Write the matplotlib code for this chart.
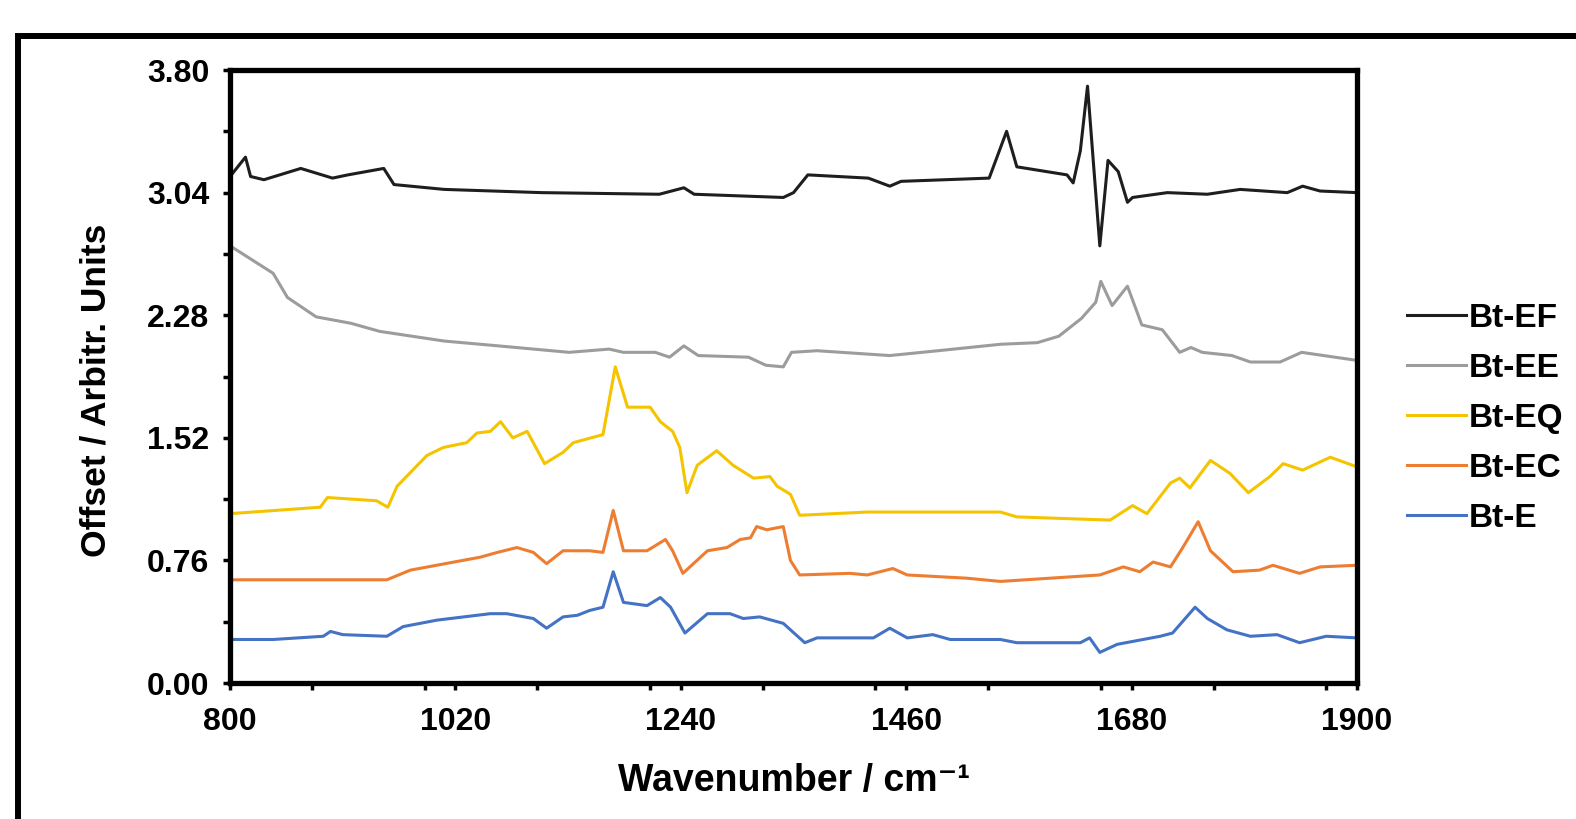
import numpy as np
import matplotlib.pyplot as plt
from matplotlib.patches import Rectangle
from matplotlib.ticker import MultipleLocator, FormatStrFormatter

plt.rcParams['font.family'] = ['Liberation Sans', 'DejaVu Sans']
plt.rcParams['font.weight'] = 'bold'

ef_x = [800, 815, 820, 833, 869, 900, 915, 950, 960, 1009, 1104, 1219, 1243, 1253, 1340,
        1350, 1364, 1423, 1444, 1455, 1541, 1558, 1568, 1617, 1623, 1630, 1637, 1649, 1657,
        1667, 1676, 1681, 1715, 1754, 1786, 1832, 1847, 1864, 1900]
ef_y = [3.14, 3.26, 3.14, 3.12, 3.19, 3.13, 3.15, 3.19, 3.09, 3.06, 3.04, 3.03, 3.07, 3.03, 3.01,
        3.04, 3.15, 3.13, 3.08, 3.11, 3.13, 3.42, 3.20, 3.15, 3.10, 3.30, 3.70, 2.71, 3.24,
        3.17, 2.98, 3.01, 3.04, 3.03, 3.06, 3.04, 3.08, 3.05, 3.04]

ee_x = [800, 842, 856, 884, 918, 946, 1009, 1062, 1131, 1170, 1184, 1215, 1229, 1243, 1257,
        1306, 1323, 1340, 1348, 1373, 1444, 1491, 1552, 1588, 1609, 1631, 1645, 1650, 1661,
        1676, 1690, 1710, 1727, 1738, 1749, 1778, 1796, 1825, 1846, 1900]
ee_y = [2.71, 2.54, 2.39, 2.27, 2.23, 2.18, 2.12, 2.09, 2.05, 2.07, 2.05, 2.05, 2.02, 2.09, 2.03,
        2.02, 1.97, 1.96, 2.05, 2.06, 2.03, 2.06, 2.10, 2.11, 2.15, 2.26, 2.36, 2.49, 2.34,
        2.46, 2.22, 2.19, 2.05, 2.08, 2.05, 2.03, 1.99, 1.99, 2.05, 2.00]

eq_x = [800, 888, 895, 943, 954, 963, 992, 1008, 1031, 1041, 1054, 1064, 1076, 1090, 1107,
        1125, 1135, 1164, 1176, 1188, 1210, 1220, 1232, 1239, 1246, 1256, 1275, 1291, 1311,
        1327, 1334, 1347, 1356, 1422, 1552, 1568, 1659, 1681, 1695, 1718, 1727, 1737, 1757,
        1776, 1794, 1815, 1828, 1847, 1874, 1900]
eq_y = [1.05, 1.09, 1.15, 1.13, 1.09, 1.22, 1.41, 1.46, 1.49, 1.55, 1.56, 1.62, 1.52, 1.56, 1.36,
        1.43, 1.49, 1.54, 1.96, 1.71, 1.71, 1.62, 1.56, 1.46, 1.18, 1.35, 1.44, 1.35, 1.27,
        1.28, 1.22, 1.17, 1.04, 1.06, 1.06, 1.03, 1.01, 1.10, 1.05, 1.24, 1.27, 1.21, 1.38,
        1.30, 1.18, 1.28, 1.36, 1.32, 1.40, 1.34]

ec_x = [800, 953, 976, 1044, 1061, 1080, 1096, 1109, 1125, 1151, 1164, 1174, 1184, 1207, 1225,
        1232, 1242, 1266, 1285, 1298, 1308, 1314, 1324, 1340, 1347, 1356, 1405, 1422, 1447,
        1461, 1519, 1552, 1649, 1672, 1688, 1701, 1718, 1730, 1745, 1757, 1779, 1805, 1818,
        1844, 1864, 1900]
ec_y = [0.64, 0.64, 0.70, 0.78, 0.81, 0.84, 0.81, 0.74, 0.82, 0.82, 0.81, 1.07, 0.82, 0.82, 0.89,
        0.82, 0.68, 0.82, 0.84, 0.89, 0.90, 0.97, 0.95, 0.97, 0.76, 0.67, 0.68, 0.67, 0.71,
        0.67, 0.65, 0.63, 0.67, 0.72, 0.69, 0.75, 0.72, 0.84, 1.00, 0.82, 0.69, 0.70, 0.73,
        0.68, 0.72, 0.73]

e_x = [800, 842, 891, 898, 910, 953, 969, 1002, 1054, 1070, 1096, 1109, 1125, 1139, 1151,
       1164, 1174, 1184, 1207, 1220, 1230, 1244, 1266, 1288, 1301, 1317, 1340, 1361, 1373,
       1428, 1444, 1461, 1486, 1503, 1552, 1568, 1630, 1639, 1649, 1666, 1708, 1720, 1742,
       1754, 1773, 1796, 1822, 1844, 1870, 1900]
e_y = [0.27, 0.27, 0.29, 0.32, 0.30, 0.29, 0.35, 0.39, 0.43, 0.43, 0.40, 0.34, 0.41, 0.42, 0.45,
       0.47, 0.69, 0.50, 0.48, 0.53, 0.47, 0.31, 0.43, 0.43, 0.40, 0.41, 0.37, 0.25, 0.28,
       0.28, 0.34, 0.28, 0.30, 0.27, 0.27, 0.25, 0.25, 0.28, 0.19, 0.24, 0.29, 0.31, 0.47,
       0.40, 0.33, 0.29, 0.30, 0.25, 0.29, 0.28]

series = [
    ('Bt-EF', ef_x, ef_y, '#1e1e1e'),
    ('Bt-EE', ee_x, ee_y, '#9c9c9c'),
    ('Bt-EQ', eq_x, eq_y, '#f5c400'),
    ('Bt-EC', ec_x, ec_y, '#ed7d31'),
    ('Bt-E', e_x, e_y, '#4472c4'),
]

y_ticks = [0.00, 0.76, 1.52, 2.28, 3.04, 3.80]
x_ticks = [800, 1020, 1240, 1460, 1680, 1900]

fig = plt.figure(figsize=(15.76, 8.19), dpi=100)
ax = fig.add_axes([0.146, 0.166, 0.715, 0.7485])

for name, xs, ys, col in series:
    ax.plot(xs, ys, color=col, lw=2.2, label=name)

ax.set_xlim(800, 1900)
ax.set_ylim(0, 3.80)
ax.set_xticks(x_ticks)
ax.set_yticks(y_ticks)
ax.xaxis.set_minor_locator(MultipleLocator(110))
ax.yaxis.set_minor_locator(MultipleLocator(0.38))
ax.yaxis.set_major_formatter(FormatStrFormatter('%.2f'))
ax.tick_params(which='both', direction='out', width=2.5, length=5, labelsize=23)
ax.tick_params(axis='y', pad=10)
ax.tick_params(axis='x', pad=12)
for lab in ax.get_xticklabels() + ax.get_yticklabels():
    lab.set_fontweight('bold')
for sp in ax.spines.values():
    sp.set_linewidth(3.8)

ax.set_xlabel('Wavenumber / cm\u207b\u00b9', fontsize=27, fontweight='bold', labelpad=19)
ax.set_ylabel('Offset / Arbitr. Units', fontsize=25.5, fontweight='bold')
ax.yaxis.set_label_coords(-0.104, 0.478)

ax.legend(loc='upper left', bbox_to_anchor=(0.893, 0.630), bbox_transform=fig.transFigure,
          frameon=False, handlelength=1.75, handletextpad=0.1,
          labelspacing=0.57, borderpad=0, borderaxespad=0,
          prop={'weight': 'bold', 'size': 24})

# outer frame around the figure panel
top = 1 - 36 / 819
fig.patches.append(Rectangle((18 / 1576, -0.2), 1.2, top + 0.2,
                             transform=fig.transFigure, fill=False,
                             edgecolor='black', lw=4.3, clip_on=False))

fig.savefig('out.png', dpi=100)
